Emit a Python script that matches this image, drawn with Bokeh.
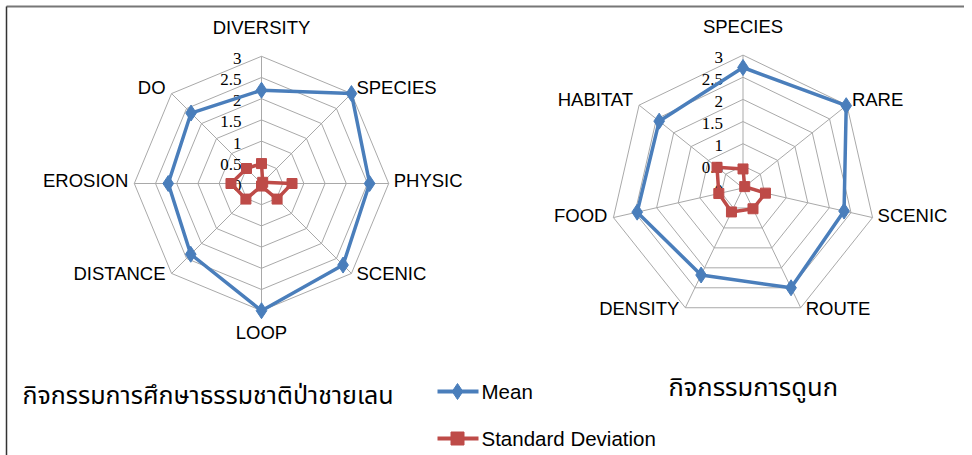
import numpy as np
from bokeh.plotting import figure
from bokeh.models import Range1d
from bokeh.core.properties import value
from bokeh.embed import file_html
from bokeh.resources import INLINE

# ---------------- data ----------------
left_categories = ["DIVERSITY", "SPECIES", "PHYSIC", "SCENIC", "LOOP", "DISTANCE", "EROSION", "DO"]
left_mean = [2.2, 3.0, 2.55, 2.72, 3.0, 2.36, 2.2, 2.35]
left_sd = [0.47, 0.04, 0.72, 0.52, 0.06, 0.52, 0.72, 0.5]

right_categories = ["SPECIES", "RARE", "SCENIC", "ROUTE", "DENSITY", "FOOD", "HABITAT"]
right_mean = [2.72, 2.98, 2.34, 2.5, 2.18, 2.45, 2.42]
right_sd = [0.43, 0.05, 0.52, 0.52, 0.6, 0.56, 0.75]

tick_values = [0, 0.5, 1, 1.5, 2, 2.5, 3]
tick_labels = ["0", "0.5", "1", "1.5", "2", "2.5", "3"]

left_title = "กิจกรรมการศึกษาธรรมชาติป่าชายเลน"
right_title = "กิจกรรมการดูนก"
series_names = ["Mean", "Standard Deviation"]

# ---------------- style ----------------
W, H = 964, 455
OFF = 0
MEAN_COLOR = "#4a7ebb"
SD_COLOR = "#be4b48"
GRID_COLOR = "#a9a9a9"
LABEL_FONT = value("Liberation Sans")
TICK_FONT = value("Liberation Serif")
THAI_FONT = value("Tahoma, 'Noto Sans Thai', 'Noto Sans', sans-serif")


def pg(px, py):
    """picture pixel -> data coordinate (data units are pixels)"""
    return px - OFF, (H + OFF) - py


p = figure(width=W, height=H, x_range=Range1d(0, W), y_range=Range1d(0, H),
           output_backend="svg", toolbar_location=None, min_border=0)
p.axis.visible = False
p.grid.visible = False
p.outline_line_color = None
p.background_fill_color = "white"
p.border_fill_color = "white"

# frame lines (top and left)
fx, fy = pg(6, 6)
p.line([fx, W], [fy, fy], line_color="#777777", line_width=2)
p.line([fx, fx], [0, fy], line_color="#333333", line_width=1.5)


def radar(center_page, unit, cats, mean, sd):
    cx, cy = pg(*center_page)
    n = len(cats)
    ang = 2 * np.pi * np.arange(n) / n
    sx, cy_ = np.sin(ang), np.cos(ang)
    rmax = tick_values[-1]

    # rings
    xs, ys = [], []
    for v in tick_values[1:]:
        x = list(cx + v * unit * sx) + [cx + v * unit * sx[0]]
        y = list(cy + v * unit * cy_) + [cy + v * unit * cy_[0]]
        xs.append(x)
        ys.append(y)
    p.multi_line(xs, ys, line_color=GRID_COLOR, line_width=1)
    # spokes
    p.multi_line([[cx, cx + rmax * unit * sx[i]] for i in range(n)],
                 [[cy, cy + rmax * unit * cy_[i]] for i in range(n)],
                 line_color=GRID_COLOR, line_width=1)

    # tick labels
    p.text([cx - 20] * len(tick_values), [cy + v * unit for v in tick_values], text=tick_labels,
           text_font=TICK_FONT, text_font_size="17px", text_color="black",
           text_align="right", text_baseline="middle", y_offset=2)

    # series
    for vals, color, marker, size in ((sd, SD_COLOR, "square", 10), (mean, MEAN_COLOR, "diamond", 16)):
        vals = np.array(vals)
        x = cx + vals * unit * sx
        y = cy + vals * unit * cy_
        p.line(list(x) + [x[0]], list(y) + [y[0]], line_color=color, line_width=3.5, line_join="round")
        p.scatter(x, y, marker=marker, size=size, fill_color=color, line_color=color)

    # category labels
    for i, c in enumerate(cats):
        vx = cx + rmax * unit * sx[i]
        vy = cy + rmax * unit * cy_[i]
        if abs(sx[i]) < 0.2:
            align = "center"
            xo = 0
            yo = -28.5 if cy_[i] > 0 else 21.5
        else:
            align = "left" if sx[i] > 0 else "right"
            xo = 5 if sx[i] > 0 else -6
            yo = -(3 + 4 * cy_[i])
        p.text([vx], [vy], text=[c], text_font=LABEL_FONT, text_font_size="18.5px",
               text_color="black", text_align=align, text_baseline="middle",
               x_offset=xo, y_offset=yo)


radar((261, 183), 42.4, left_categories, left_mean, left_sd)
radar((742.5, 187.5), 44.3, right_categories, right_mean, right_sd)

# titles
tx, ty = pg(22, 395)
p.text([tx], [ty], text=[left_title], text_font=THAI_FONT, text_font_size="25px",
       text_color="black", text_align="left", text_baseline="middle")
tx, ty = pg(668, 387)
p.text([tx], [ty], text=[right_title], text_font=THAI_FONT, text_font_size="25.5px",
       text_color="black", text_align="left", text_baseline="middle")

# legend
for name, color, marker, size, py in ((series_names[0], MEAN_COLOR, "diamond", 16, 391),
                                      (series_names[1], SD_COLOR, "square", 13, 438)):
    x0, y0 = pg(437, py)
    x1, _ = pg(478, py)
    xm, _ = pg(457, py)
    xt, _ = pg(481, py)
    p.line([x0, x1], [y0, y0], line_color=color, line_width=4)
    p.scatter([xm], [y0], marker=marker, size=size, fill_color=color, line_color=color)
    p.text([xt], [y0], text=[name], text_font=LABEL_FONT, text_font_size="20.5px",
           text_color="black", text_align="left", text_baseline="middle")

open("out.html", "w").write(file_html(p, INLINE))
